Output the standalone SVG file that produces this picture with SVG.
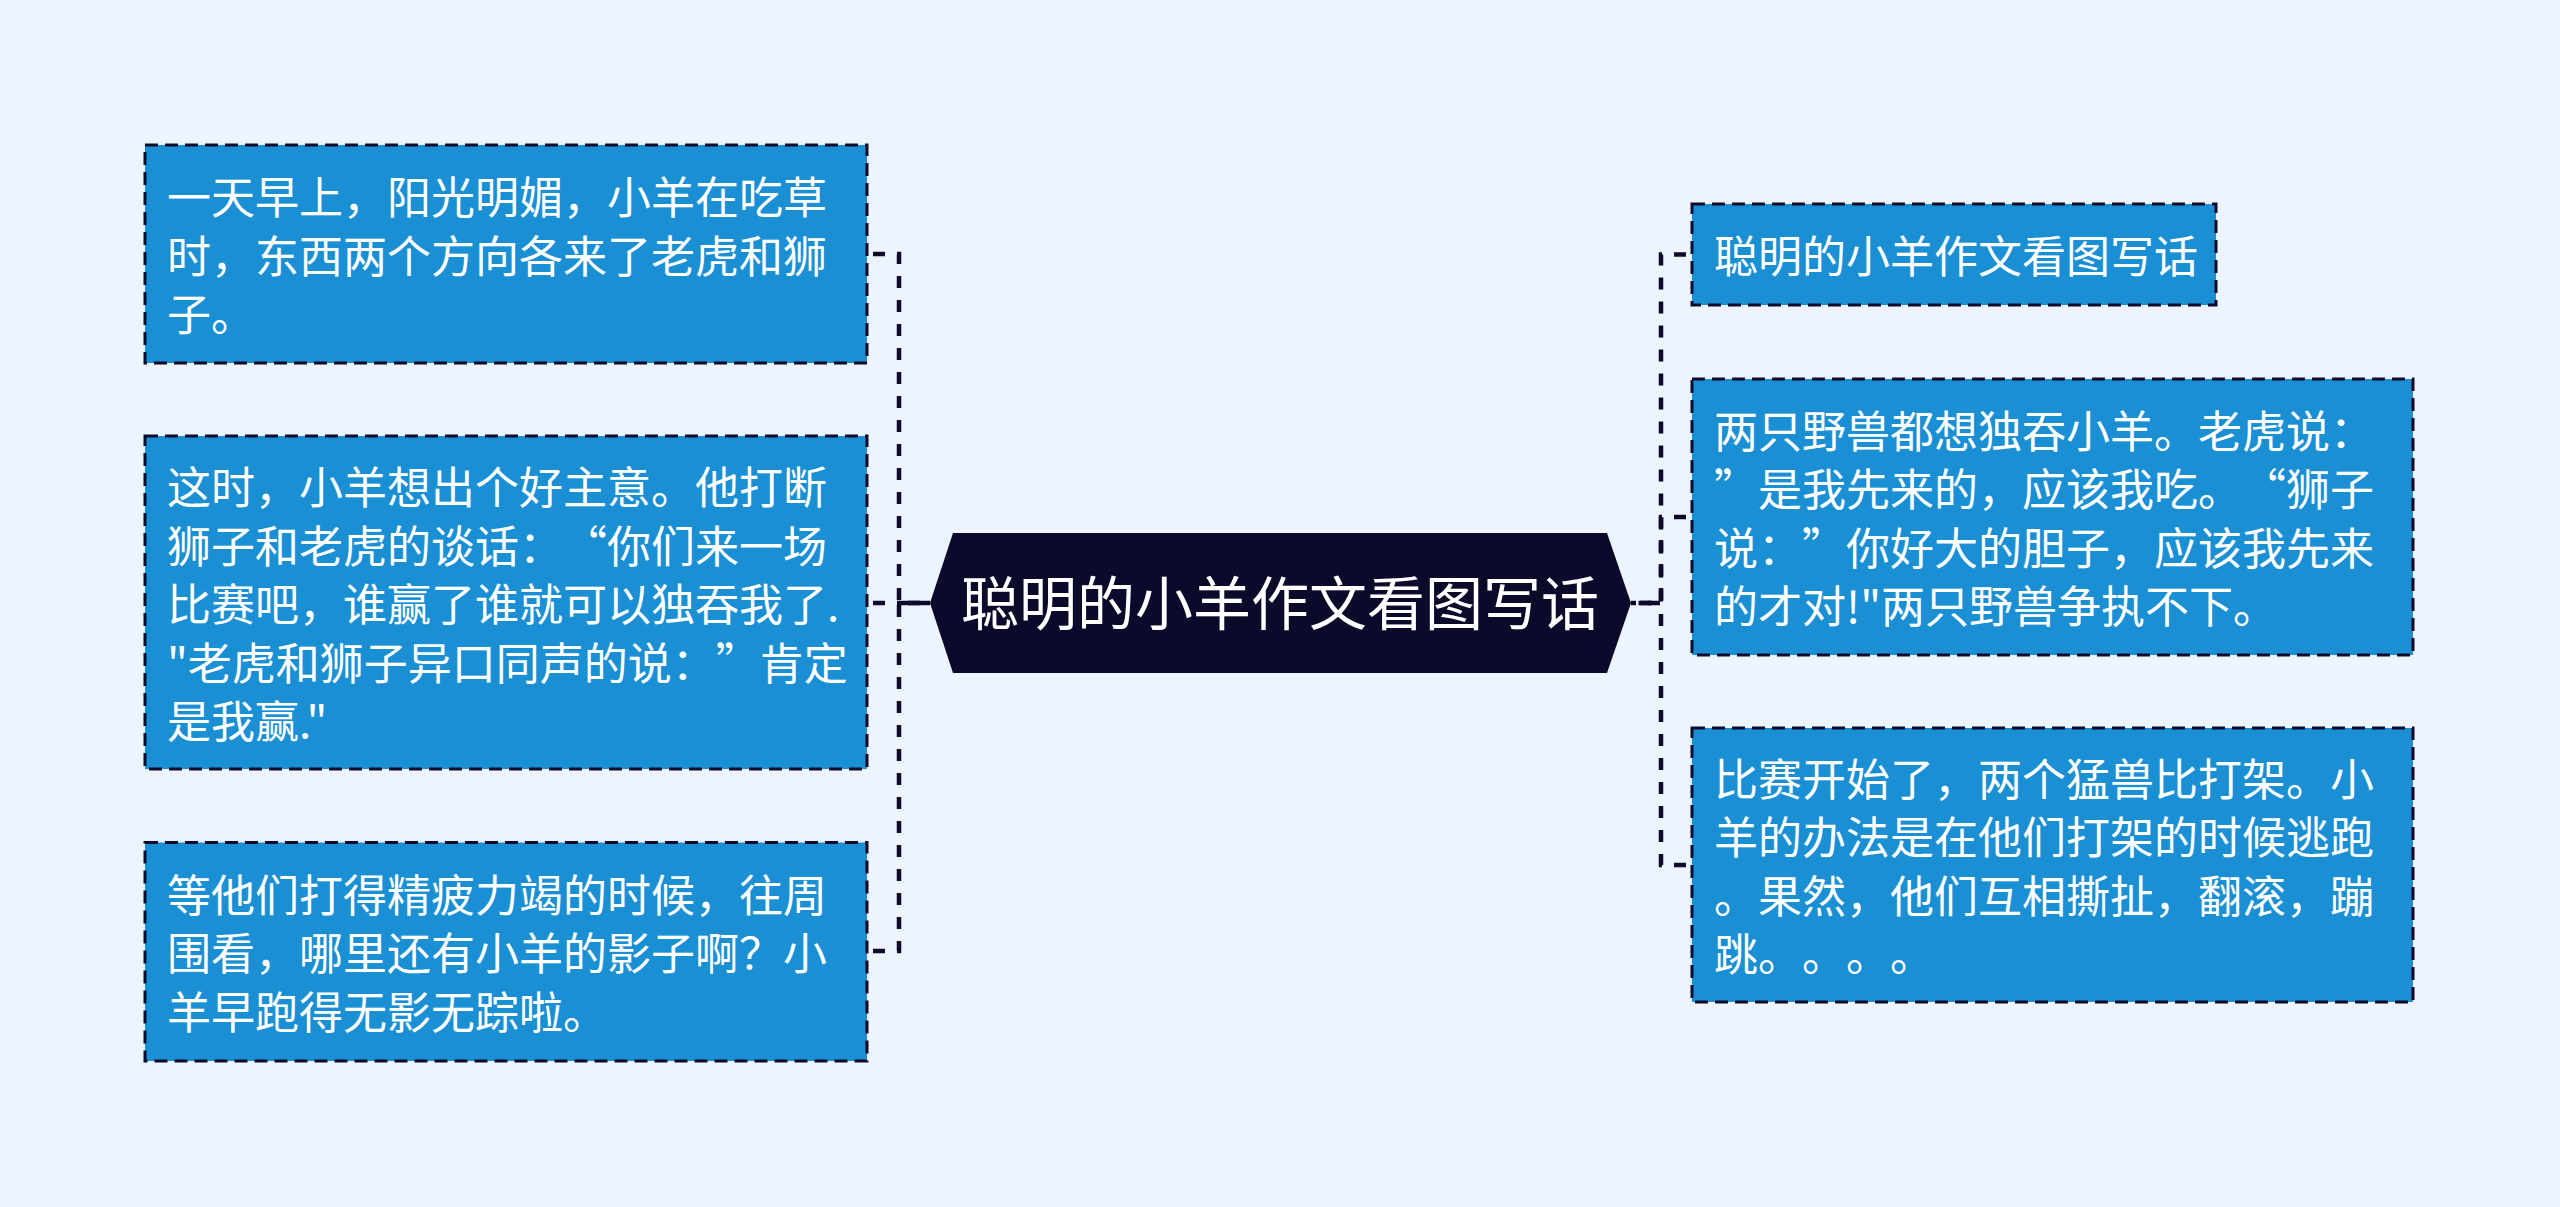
<svg xmlns="http://www.w3.org/2000/svg" width="2560" height="1207" viewBox="0 0 2560 1207">
<style>
.bg{fill:#eef4fe}
.box{fill:#1a8fd3;stroke:#0c0b2b;stroke-width:3;stroke-dasharray:13 7}
.hub{fill:#0c0a2b}
.t{font-family:"Noto Sans CJK SC","Noto Sans",sans-serif;font-size:44px;fill:#ffffff;text-spacing-trim:space-all}
.ht{font-family:"Noto Sans CJK SC","Noto Sans",sans-serif;font-size:58px;fill:#ffffff;text-anchor:middle;text-spacing-trim:space-all}
.c{fill:none;stroke:#0c0b2b;stroke-width:4.5;stroke-dasharray:12 12;stroke-dashoffset:18}
</style>
<rect class="bg" x="0" y="0" width="2560" height="1207"/>
<g id="connectors">
<path class="c" d="M867,254 H899 V603 H930"/>
<path class="c" d="M867,603 H930"/>
<path class="c" d="M867,951 H899 V603 H930"/>
<path class="c" d="M1692,254.5 H1661 V603 H1631"/>
<path class="c" d="M1692,517 H1661 V603 H1631"/>
<path class="c" d="M1692,865 H1661 V603 H1631"/>
</g>
<g id="center">
<polygon class="hub" points="930,603 953,533 1607,533 1631,603 1607,673 953,673"/>
<text class="ht" x="1280" y="625">聪明的小羊作文看图写话</text>
</g>
<g id="left1">
<rect class="box" x="145" y="145" width="722" height="218"/>
<text class="t" x="167"><tspan x="167" y="214">一天早上，阳光明媚，小羊在吃草</tspan><tspan x="167" y="272.5">时，东西两个方向各来了老虎和狮</tspan><tspan x="167" y="331">子。</tspan></text>
</g>
<g id="left2">
<rect class="box" x="145" y="436" width="722" height="333"/>
<text class="t" x="167"><tspan x="167" y="504">这时，小羊想出个好主意。他打断</tspan><tspan x="167" y="562.5">狮子和老虎的谈话：“你们来一场</tspan><tspan x="167" y="621">比赛吧，谁赢了谁就可以独吞我了.</tspan><tspan x="167" y="679.5">"老虎和狮子异口同声的说：”肯定</tspan><tspan x="167" y="738">是我赢."</tspan></text>
</g>
<g id="left3">
<rect class="box" x="145" y="842.5" width="722" height="218.5"/>
<text class="t" x="167"><tspan x="167" y="911.75">等他们打得精疲力竭的时候，往周</tspan><tspan x="167" y="970.25">围看，哪里还有小羊的影子啊？小</tspan><tspan x="167" y="1028.75">羊早跑得无影无踪啦。</tspan></text>
</g>
<g id="right1">
<rect class="box" x="1692" y="204" width="524" height="101"/>
<text class="t" x="1714" y="273">聪明的小羊作文看图写话</text>
</g>
<g id="right2">
<rect class="box" x="1692" y="379" width="721" height="276"/>
<text class="t" x="1714"><tspan x="1714" y="447.75">两只野兽都想独吞小羊。老虎说：</tspan><tspan x="1714" y="506.25">”是我先来的，应该我吃。“狮子</tspan><tspan x="1714" y="564.75">说：”你好大的胆子，应该我先来</tspan><tspan x="1714" y="623.25">的才对!"两只野兽争执不下。</tspan></text>
</g>
<g id="right3">
<rect class="box" x="1692" y="728" width="721" height="274"/>
<text class="t" x="1714"><tspan x="1714" y="795.75">比赛开始了，两个猛兽比打架。小</tspan><tspan x="1714" y="854.25">羊的办法是在他们打架的时候逃跑</tspan><tspan x="1714" y="912.75">。果然，他们互相撕扯，翻滚，蹦</tspan><tspan x="1714" y="971.25">跳。。。。</tspan></text>
</g>
</svg>
